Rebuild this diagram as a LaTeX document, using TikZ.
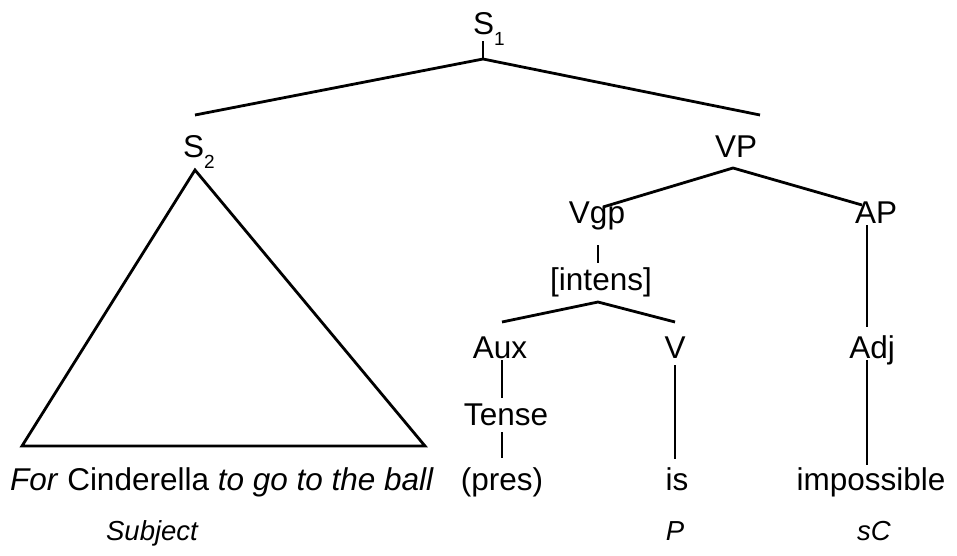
\documentclass[tikz,border=0pt]{standalone}
\usepackage{fontspec}
\setmainfont{Liberation Sans}
\newcommand{\subsc}[1]{\raisebox{-11pt}{\fontsize{19}{21}\selectfont #1}}
\begin{document}
\begin{tikzpicture}[x=1pt,y=-1pt,
  lbl/.style={anchor=base,inner sep=0pt,font=\fontsize{31.5}{36}\selectfont},
  role/.style={anchor=base,inner sep=0pt,font=\fontsize{27.5}{32}\selectfont\itshape},
  br/.style={line width=2.8pt}]
\useasboundingbox (0,0) rectangle (957,555);
% labels
\node[lbl] (s1) at (489,34) {S\subsc{1}};
\node[lbl] (s2) at (199,157) {S\subsc{2}};
\node[lbl] (vp) at (736,157) {VP};
\node[lbl] (vgp) at (597,223) {Vgp};
\node[lbl] (ap) at (876,223) {AP};
\node[lbl] (int) at (601,290) {[intens]};
\node[lbl] (aux) at (500,358) {Aux};
\node[lbl] (v) at (675,358) {V};
\node[lbl] (adj) at (872,358) {Adj};
\node[lbl] (tense) at (506,425) {Tense};
\node[lbl,anchor=base west] (sent) at (10,490) {\textit{For} Cinderella \textit{to go to the ball}};
\node[lbl] (pres) at (502,490) {(pres)};
\node[lbl] (is) at (677,490) {is};
\node[lbl] (imp) at (871,490) {impossible};
\node[role] (subj) at (152,540) {Subject};
\node[role] (p) at (675,540) {P};
\node[role] (sc) at (874,540) {sC};
% joints
\coordinate (s1t) at (483,41);
\coordinate (s1j) at (483,59);
\coordinate (s2e) at (195,115);
\coordinate (vpe) at (760,115);
\coordinate (tA) at (195,170);
\coordinate (tB) at (22,446);
\coordinate (tC) at (425,446);
\coordinate (vpj) at (733,168);
\coordinate (vgpe) at (603,207);
\coordinate (ape) at (862,205);
\coordinate (vgpb) at (598,245);
\coordinate (intt) at (598,263);
\coordinate (intj) at (598,302);
\coordinate (auxe) at (502,322);
\coordinate (ve) at (675,322);
\coordinate (auxb) at (502,360);
\coordinate (tenset) at (502,398);
\coordinate (tenseb) at (502,432);
\coordinate (prest) at (502,458);
\coordinate (vb) at (675,365);
\coordinate (ist) at (675,459);
\coordinate (apb) at (867,225);
\coordinate (adjt) at (867,327);
\coordinate (adjb) at (867,360);
\coordinate (impt) at (867,465);
% branches
\draw[br] (s1t) -- (s1j);
\draw[br] (s2e) -- (s1j) -- (vpe);
\draw[br,line join=miter] (tA) -- (tB) -- (tC) -- cycle;
\draw[br] (vgpe) -- (vpj) -- (ape);
\draw[br] (vgpb) -- (intt);
\draw[br] (auxe) -- (intj) -- (ve);
\draw[br] (auxb) -- (tenset);
\draw[br] (tenseb) -- (prest);
\draw[br] (vb) -- (ist);
\draw[br] (apb) -- (adjt);
\draw[br] (adjb) -- (impt);
\end{tikzpicture}
\end{document}
